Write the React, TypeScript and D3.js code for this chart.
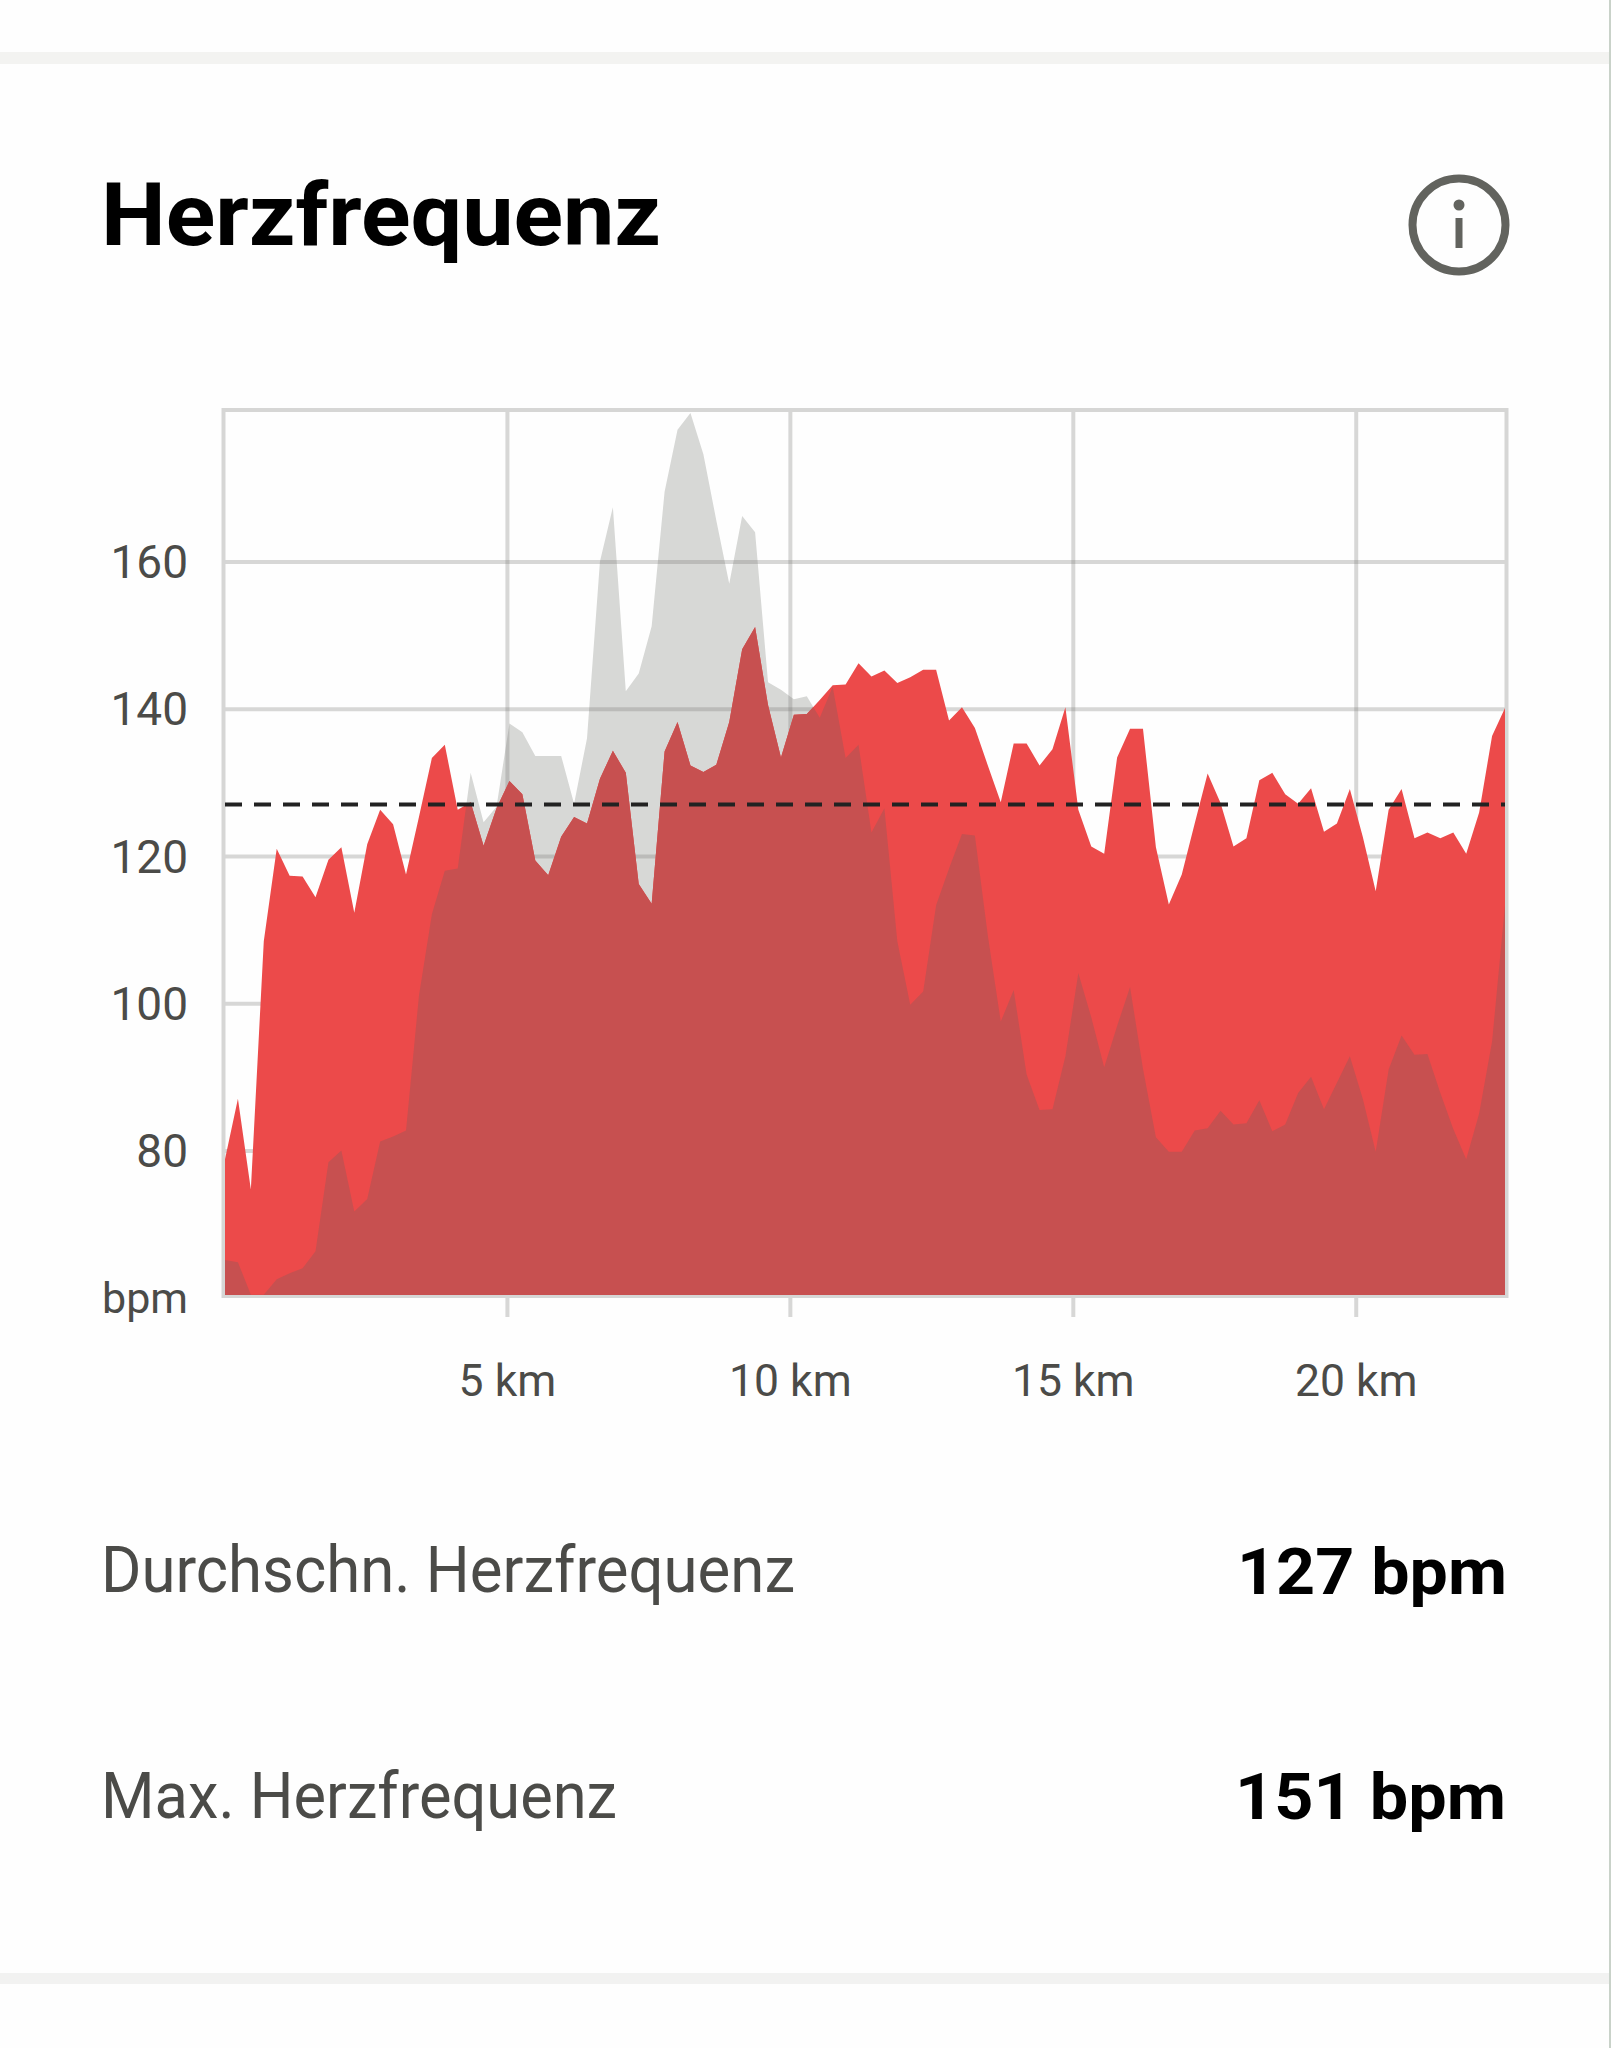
import { useRef, useEffect } from 'react';
import * as d3 from 'd3';

// Heart rate over the run, one sample per slot (bpm)
const heartRate: number[] = [
  78.8, 87, 74.7, 108.4, 121, 117.3, 117.2, 114.4, 119.5, 121.2,
  112.3, 121.6, 126.3, 124.3, 117.5, 125.3, 133.3, 135.1, 126.3, 127.3,
  121.4, 126.5, 130.2, 128.4, 119.4, 117.4, 122.6, 125.3, 124.4, 130.5,
  134.3, 131.3, 116.2, 113.5, 134.2, 138.2, 132.3, 131.4, 132.4, 138.2,
  148.1, 151.1, 140.5, 133.4, 139.2, 139.3, 141.2, 143.2, 143.3, 146.2,
  144.4, 145.2, 143.5, 144.3, 145.3, 145.3, 138.4, 140.2, 137.4, 132.3,
  127.3, 135.3, 135.3, 132.3, 134.5, 140.2, 126.3, 121.3, 120.3, 133.4,
  137.3, 137.3, 121.2, 113.4, 117.5, 124.4, 131.2, 127.2, 121.3, 122.4,
  130.3, 131.3, 128.4, 127.1, 129.2, 123.3, 124.4, 129.1, 122.6, 115.2,
  126.3, 129.1, 122.4, 123.2, 122.4, 123.2, 120.3, 125.9, 136.3, 140.1,
];

// Grey background profile behind the heart rate
const profile: number[] = [
  65.1, 64.8, 60.4, 60.4, 62.5, 63.3, 64, 66.3, 78.4, 80,
  71.7, 73.4, 81.2, 81.9, 82.7, 101, 112.1, 118, 118.3, 131.3,
  124.6, 126.7, 138, 136.8, 133.6, 133.6, 133.6, 127.1, 136, 160,
  167.4, 142.4, 144.8, 151.2, 169.5, 177.9, 180.2, 174.6, 165.6, 157,
  166.2, 164, 143.6, 142.6, 141.3, 141.7, 138.8, 143, 133.3, 135.1,
  123.2, 126.5, 108.4, 99.8, 101.6, 113.3, 118.3, 123, 122.8, 109.2,
  97.5, 101.8, 90.3, 85.5, 85.6, 92.8, 104.1, 98.1, 91.3, 96.9,
  102.2, 91.1, 81.8, 79.8, 79.8, 82.7, 83, 85.4, 83.5, 83.7,
  86.8, 82.6, 83.5, 87.8, 90, 85.6, 89.2, 92.8, 87, 79.8,
  91, 95.6, 93, 93.1, 87.8, 82.9, 78.8, 85, 94.8, 113.3,
];

const bpmTicks: number[] = [160, 140, 120, 100, 80];
const kmTicks: number[] = [5, 10, 15, 20];
const totalKm = 22.62;
const averageBpm = 127;
const statLabels: string[] = ['Durchschn. Herzfrequenz', 'Max. Herzfrequenz'];
const statValues: string[] = ['127 bpm', '151 bpm'];

const sans = 'Roboto, sans-serif';
const gridColor = 'rgba(110,112,108,0.27)';

export default function App() {
  const chartRef = useRef<SVGGElement | null>(null);

  useEffect(() => {
    if (!chartRef.current) return;
    const g = d3.select(chartRef.current);
    g.selectAll('*').remove();

    const x = d3.scaleLinear().domain([0, totalKm]).range([225, 1505]);
    const y = d3.scaleLinear().domain([60.35, 180.6]).range([1295, 410]);
    const kmAt = (i: number) => (i * totalKm) / (heartRate.length - 1);

    const area = d3.area<number>()
      .x((_, i) => x(kmAt(i)))
      .y0(y(60.35))
      .y1((d) => y(d));

    // Grey profile goes under the grid, the grid shows through it
    g.append('path').attr('d', area(profile)).attr('fill', '#d7d8d6');

    const yAxis = d3.axisLeft(y).tickValues(bpmTicks).tickSize(-(1506 - 223)).tickPadding(35);
    const yG = g.append('g').attr('transform', 'translate(223,0)').call(yAxis);
    const xAxis = d3.axisBottom(x)
      .tickValues(kmTicks)
      .tickSize(-(1317 - 410))
      .tickFormat((d) => `${d} km`);
    const xG = g.append('g').attr('transform', 'translate(-1,1317)').call(xAxis);

    [yG, xG].forEach((axis) => {
      axis.select('.domain').remove();
      axis.selectAll('line').attr('stroke', gridColor).attr('stroke-width', 4);
      axis.selectAll('text')
        .attr('fill', '#4b4b48')
        .attr('font-family', sans);
    });
    yG.selectAll('text').attr('dy', '0.35em').attr('font-size', 46);
    xG.selectAll('text').attr('y', 0).attr('dy', 79).attr('font-size', 44.5);

    g.append('rect')
      .attr('x', 223.5).attr('y', 410)
      .attr('width', 1283).attr('height', 886)
      .attr('fill', 'none')
      .attr('stroke', '#d6d6d5')
      .attr('stroke-width', 4);

    g.append('text')
      .attr('x', 188).attr('y', 1313)
      .attr('text-anchor', 'end')
      .attr('fill', '#4b4b48')
      .attr('font-family', sans)
      .attr('font-size', 43)
      .text('bpm');

    // Red on top, then the overlap with the profile in a darker red
    g.append('clipPath').attr('id', 'hr-clip')
      .append('path').attr('d', area(heartRate));
    g.append('path').attr('d', area(heartRate)).attr('fill', '#ec4a4a');
    g.append('path')
      .attr('d', area(profile))
      .attr('fill', '#c75050')
      .attr('clip-path', 'url(#hr-clip)');

    g.append('line')
      .attr('x1', x(0)).attr('x2', x(totalKm))
      .attr('y1', y(averageBpm)).attr('y2', y(averageBpm))
      .attr('stroke', '#222')
      .attr('stroke-width', 4)
      .attr('stroke-dasharray', '17 12');
  }, []);

  return (
    <svg
      width={1611}
      height={2048}
      style={{ position: 'absolute', left: 0, top: 0, background: '#fefefe' }}
    >
      <rect x={0} y={52} width={1609} height={12} fill="#f3f3f1" />
      <rect x={0} y={1973} width={1609} height={11} fill="#f2f2f1" />
      <rect x={1609} y={0} width={2} height={2048} fill="#c9d2c9" />

      <text x={101} y={245} fontFamily={sans} fontWeight={700} fontSize={88} fill="#000" textLength={560} lengthAdjust="spacingAndGlyphs">
        Herzfrequenz
      </text>

      <circle cx={1459} cy={225} r={46.5} fill="none" stroke="#62635e" strokeWidth={8} />
      <circle cx={1459} cy={205} r={5.5} fill="#62635e" />
      <rect x={1455.5} y={218} width={7} height={30} fill="#62635e" />

      <g ref={chartRef} />

      <text x={101} y={1592} fontFamily={sans} fontSize={64} fill="#4b4b48" textLength={694} lengthAdjust="spacingAndGlyphs">
        {statLabels[0]}
      </text>
      <text x={101} y={1818} fontFamily={sans} fontSize={64} fill="#4b4b48" textLength={516} lengthAdjust="spacingAndGlyphs">
        {statLabels[1]}
      </text>
      <text x={1237} y={1594} fontFamily={sans} fontWeight={700} fontSize={64} fill="#000" textLength={270} lengthAdjust="spacingAndGlyphs">
        {statValues[0]}
      </text>
      <text x={1235} y={1819} fontFamily={sans} fontWeight={700} fontSize={64} fill="#000" textLength={271} lengthAdjust="spacingAndGlyphs">
        {statValues[1]}
      </text>
    </svg>
  );
}
